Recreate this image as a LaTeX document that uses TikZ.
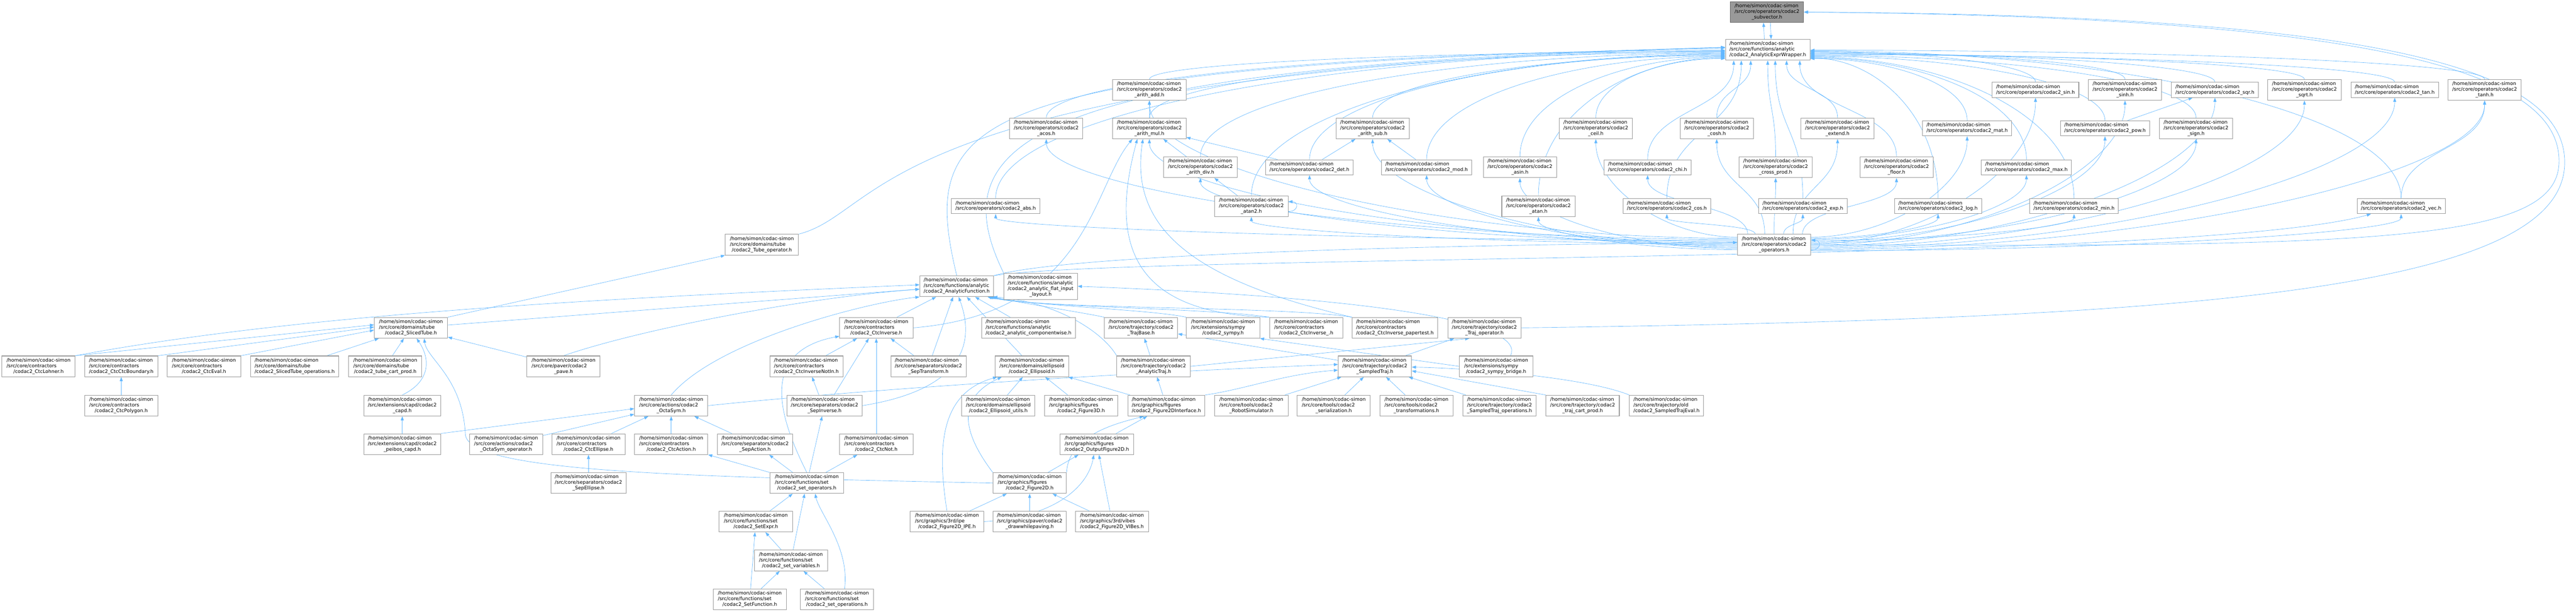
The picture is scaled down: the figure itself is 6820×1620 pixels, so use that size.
\documentclass[tikz,border=0pt]{standalone}
\usepackage{fontspec}
\setmainfont{DejaVu Sans}
\usepackage{tikz}
\usetikzlibrary{backgrounds}
\usetikzlibrary{calc}
\usetikzlibrary{arrows.meta}

\definecolor{edgeblue}{HTML}{63B8FF}
\definecolor{boxline}{HTML}{999999}
\definecolor{rootfill}{HTML}{999999}
\definecolor{rootline}{HTML}{666666}

% file labels: path lines left, last line centred
\newcommand{\doxf}[2]{\begin{tabular}{@{}l@{}}/home/simon/codac-simon\\#1\\\multicolumn{1}{@{}c@{}}{#2}\end{tabular}}
\newcommand{\doxt}[1]{\begin{tabular}{@{}l@{}}/home/simon/codac-simon\\#1\end{tabular}}
% curved includes: v = leaves/enters vertically, h = horizontally
\newcommand{\vhedge}[2]{\draw[inc edge] (#1) .. controls ($(#1)!0.6!(#1 |- #2)$) and ($(#1 |- #2)!0.5!(#2)$) .. (#2);}
\newcommand{\hvedge}[2]{\draw[inc edge] (#1) .. controls ($(#1)!0.5!(#1 -| #2)$) and ($(#1 -| #2)!0.5!(#2)$) .. (#2);}
\newcommand{\vvedge}[2]{\draw[inc edge] (#1) .. controls ($(#1)!0.5!(#1 |- #2)$) and ($(#2)!0.5!(#2 |- #1)$) .. (#2);}

\begin{document}
\begin{tikzpicture}[x=1pt,y=-1pt,
  file node/.style={rectangle,draw=boxline,fill=white,line width=1.4pt,inner xsep=10.5pt,inner ysep=5pt,minimum width=194pt,font=\fontsize{12.8}{15}\selectfont},
  root node/.style={file node,fill=rootfill,draw=rootline},
  inc edge/.style={draw=edgeblue,line width=0.9pt,-{Triangle[length=11pt,width=8pt]}}]

  \useasboundingbox (0,0) rectangle (6820,1620);

  % top
  \node[root node] (sub) at (4678,32) {\doxf{/src/core/operators/codac2}{\_subvector.h}};
  \node[file node] (wrap) at (4680,132) {\doxf{/src/core/functions/analytic}{/codac2\_AnalyticExprWrapper.h}};

  % operators
  \node[file node] (add) at (3043,238) {\doxf{/src/core/operators/codac2}{\_arith\_add.h}};
  \node[file node] (sin) at (5389,238) {\doxt{/src/core/operators/codac2\_sin.h}};
  \node[file node] (sinh) at (5626,238) {\doxf{/src/core/operators/codac2}{\_sinh.h}};
  \node[file node] (sqr) at (5864,238) {\doxt{/src/core/operators/codac2\_sqr.h}};
  \node[file node] (sqrt) at (6101,238) {\doxf{/src/core/operators/codac2}{\_sqrt.h}};
  \node[file node] (tan) at (6340,238) {\doxt{/src/core/operators/codac2\_tan.h}};
  \node[file node] (tanh) at (6578,238) {\doxf{/src/core/operators/codac2}{\_tanh.h}};

  \node[file node] (acos) at (2770,340) {\doxf{/src/core/operators/codac2}{\_acos.h}};
  \node[file node] (mul) at (3043,340) {\doxf{/src/core/operators/codac2}{\_arith\_mul.h}};
  \node[file node] (sub2) at (3634,340) {\doxf{/src/core/operators/codac2}{\_arith\_sub.h}};
  \node[file node] (ceil) at (4225,340) {\doxf{/src/core/operators/codac2}{\_ceil.h}};
  \node[file node] (cosh) at (4545,340) {\doxf{/src/core/operators/codac2}{\_cosh.h}};
  \node[file node] (extend) at (4865,340) {\doxf{/src/core/operators/codac2}{\_extend.h}};
  \node[file node] (mat) at (5208,340) {\doxt{/src/core/operators/codac2\_mat.h}};
  \node[file node] (pow) at (5573,340) {\doxt{/src/core/operators/codac2\_pow.h}};
  \node[file node] (sign) at (5814,340) {\doxf{/src/core/operators/codac2}{\_sign.h}};

  \node[file node] (div) at (3178,443) {\doxf{/src/core/operators/codac2}{\_arith\_div.h}};
  \node[file node] (det) at (3467,443) {\doxt{/src/core/operators/codac2\_det.h}};
  \node[file node] (mod) at (3777,443) {\doxt{/src/core/operators/codac2\_mod.h}};
  \node[file node] (asin) at (4024,443) {\doxf{/src/core/operators/codac2}{\_asin.h}};
  \node[file node] (chi) at (4362,443) {\doxt{/src/core/operators/codac2\_chi.h}};
  \node[file node] (cross) at (4701,443) {\doxf{/src/core/operators/codac2}{\_cross\_prod.h}};
  \node[file node] (floor) at (5021,443) {\doxf{/src/core/operators/codac2}{\_floor.h}};
  \node[file node] (max) at (5365,443) {\doxt{/src/core/operators/codac2\_max.h}};

  \node[file node] (abs) at (2636,546) {\doxt{/src/core/operators/codac2\_abs.h}};
  \node[file node] (atan2) at (3313,546) {\doxf{/src/core/operators/codac2}{\_atan2.h}};
  \node[file node] (atan) at (4073,546) {\doxf{/src/core/operators/codac2}{\_atan.h}};
  \node[file node] (cos) at (4413,546) {\doxt{/src/core/operators/codac2\_cos.h}};
  \node[file node] (exp) at (4773,546) {\doxt{/src/core/operators/codac2\_exp.h}};
  \node[file node] (log) at (5131,546) {\doxt{/src/core/operators/codac2\_log.h}};
  \node[file node] (min) at (5491,546) {\doxt{/src/core/operators/codac2\_min.h}};
  \node[file node] (vec) at (6357,546) {\doxt{/src/core/operators/codac2\_vec.h}};

  \node[file node] (tubeop) at (2017,648) {\doxf{/src/core/domains/tube}{/codac2\_Tube\_operator.h}};
  \node[file node] (ops) at (4697,648) {\doxf{/src/core/operators/codac2}{\_operators.h}};

  % functions, contractors, trajectories
  \node[file node] (af) at (2533,758) {\doxf{/src/core/functions/analytic}{/codac2\_AnalyticFunction.h}};
  \node[file node] (flat) at (2755,758) {\begin{tabular}{@{}l@{}}/home/simon/codac-simon\\/src/core/functions/analytic\\/codac2\_analytic\_flat\_input\\\multicolumn{1}{@{}c@{}}{\_layout.h}\end{tabular}};

  \node[file node] (sliced) at (1088,868) {\doxf{/src/core/domains/tube}{/codac2\_SlicedTube.h}};
  \node[file node] (ctcinv) at (2320,868) {\doxf{/src/core/contractors}{/codac2\_CtcInverse.h}};
  \node[file node] (compw) at (2723,868) {\doxf{/src/core/functions/analytic}{/codac2\_analytic\_componentwise.h}};
  \node[file node] (trajbase) at (3021,868) {\doxf{/src/core/trajectory/codac2}{\_TrajBase.h}};
  \node[file node] (sympy) at (3238,868) {\doxf{/src/extensions/sympy}{/codac2\_sympy.h}};
  \node[file node] (ctcinvu) at (3458,868) {\doxf{/src/core/contractors}{/codac2\_CtcInverse\_.h}};
  \node[file node] (paper) at (3693,868) {\doxf{/src/core/contractors}{/codac2\_CtcInverse\_papertest.h}};
  \node[file node] (trajop) at (3930,868) {\doxf{/src/core/trajectory/codac2}{\_Traj\_operator.h}};

  \node[file node] (lohner) at (102,970) {\doxf{/src/core/contractors}{/codac2\_CtcLohner.h}};
  \node[file node] (ctcbound) at (321,970) {\doxf{/src/core/contractors}{/codac2\_CtcCtcBoundary.h}};
  \node[file node] (ctceval) at (540,970) {\doxf{/src/core/contractors}{/codac2\_CtcEval.h}};
  \node[file node] (slicedops) at (780,970) {\doxf{/src/core/domains/tube}{/codac2\_SlicedTube\_operations.h}};
  \node[file node] (tubecart) at (1020,970) {\doxf{/src/core/domains/tube}{/codac2\_tube\_cart\_prod.h}};
  \node[file node] (pave) at (1492,970) {\doxf{/src/core/paver/codac2}{\_pave.h}};
  \node[file node] (notin) at (2135,970) {\doxf{/src/core/contractors}{/codac2\_CtcInverseNotIn.h}};
  \node[file node] (septrans) at (2458,970) {\doxf{/src/core/separators/codac2}{\_SepTransform.h}};
  \node[file node] (ellips) at (2732,970) {\doxf{/src/core/domains/ellipsoid}{/codac2\_Ellipsoid.h}};
  \node[file node] (atraj) at (3054,970) {\doxf{/src/core/trajectory/codac2}{\_AnalyticTraj.h}};
  \node[file node] (straj) at (3640,970) {\doxf{/src/core/trajectory/codac2}{\_SampledTraj.h}};
  \node[file node] (bridge) at (3961,970) {\doxf{/src/extensions/sympy}{/codac2\_sympy\_bridge.h}};

  \node[file node] (polygon) at (321,1074) {\doxf{/src/core/contractors}{/codac2\_CtcPolygon.h}};
  \node[file node] (capd) at (1065,1074) {\doxf{/src/extensions/capd/codac2}{\_capd.h}};
  \node[file node] (octa) at (1777,1074) {\doxf{/src/core/actions/codac2}{\_OctaSym.h}};
  \node[file node] (sepinv) at (2183,1074) {\doxf{/src/core/separators/codac2}{\_SepInverse.h}};
  \node[file node] (ellutil) at (2643,1074) {\doxf{/src/core/domains/ellipsoid}{/codac2\_Ellipsoid\_utils.h}};
  \node[file node] (fig3d) at (2862,1074) {\doxf{/src/graphics/figures}{/codac2\_Figure3D.h}};
  \node[file node] (fig2di) at (3088,1074) {\doxf{/src/graphics/figures}{/codac2\_Figure2DInterface.h}};
  \node[file node] (robot) at (3313,1074) {\doxf{/src/core/tools/codac2}{\_RobotSimulator.h}};
  \node[file node] (serial) at (3531,1074) {\doxf{/src/core/tools/codac2}{\_serialization.h}};
  \node[file node] (transf) at (3750,1074) {\doxf{/src/core/tools/codac2}{\_transformations.h}};
  \node[file node] (strajops) at (3970,1074) {\doxf{/src/core/trajectory/codac2}{\_SampledTraj\_operations.h}};
  \node[file node] (trajcart) at (4190,1074) {\doxf{/src/core/trajectory/codac2}{\_traj\_cart\_prod.h}};
  \node[file node] (strajeval) at (4412,1074) {\doxf{/src/core/trajectory/old}{/codac2\_SampledTrajEval.h}};

  \node[file node] (peibos) at (1065,1176) {\doxf{/src/extensions/capd/codac2}{\_peibos\_capd.h}};
  \node[file node] (octaop) at (1340,1176) {\doxf{/src/core/actions/codac2}{\_OctaSym\_operator.h}};
  \node[file node] (ctcell) at (1558,1176) {\doxf{/src/core/contractors}{/codac2\_CtcEllipse.h}};
  \node[file node] (ctcact) at (1777,1176) {\doxf{/src/core/contractors}{/codac2\_CtcAction.h}};
  \node[file node] (sepact) at (1999,1176) {\doxf{/src/core/separators/codac2}{\_SepAction.h}};
  \node[file node] (ctcnot) at (2320,1176) {\doxf{/src/core/contractors}{/codac2\_CtcNot.h}};
  \node[file node] (outfig) at (2904,1176) {\doxf{/src/graphics/figures}{/codac2\_OutputFigure2D.h}};

  \node[file node] (sepell) at (1558,1279) {\doxf{/src/core/separators/codac2}{\_SepEllipse.h}};
  \node[file node] (setops) at (2136,1279) {\doxf{/src/core/functions/set}{/codac2\_set\_operators.h}};
  \node[file node] (fig2d) at (2726,1279) {\doxf{/src/graphics/figures}{/codac2\_Figure2D.h}};

  \node[file node] (setexpr) at (2001,1381) {\doxf{/src/core/functions/set}{/codac2\_SetExpr.h}};
  \node[file node] (ipe) at (2507,1381) {\doxf{/src/graphics/3rd/ipe}{/codac2\_Figure2D\_IPE.h}};
  \node[file node] (dwp) at (2726,1381) {\doxf{/src/graphics/paver/codac2}{\_drawwhilepaving.h}};
  \node[file node] (vibes) at (2944,1381) {\doxf{/src/graphics/3rd/vibes}{/codac2\_Figure2D\_VIBes.h}};

  \node[file node] (setvars) at (2094,1484) {\doxf{/src/core/functions/set}{/codac2\_set\_variables.h}};

  \node[file node] (setfunc) at (1985,1587) {\doxf{/src/core/functions/set}{/codac2\_SetFunction.h}};
  \node[file node] (setoper) at (2216,1587) {\doxf{/src/core/functions/set}{/codac2\_set\_operations.h}};

  \begin{pgfonlayer}{background}
  \fill[white] (0,0) rectangle (6820,1620);

  % subvector <-> wrapper
  \draw[inc edge] ([xshift=-9pt]wrap.north) -- ([xshift=-9pt]sub.south);
  \draw[inc edge] ([xshift=9pt]sub.south) -- ([xshift=9pt]wrap.north);
  \draw[inc edge] (ops.east) .. controls (6300,655) and (6770,640) .. (6775,430) .. controls (6780,190) and (6300,45) .. (sub.east);
  \draw[inc edge] (trajop.east) .. controls (5800,845) and (6790,770) .. (6790,430) .. controls (6790,180) and (6300,40) .. (sub.east);

  % operators -> wrapper
  \foreach \n/\o in {acos/-1,abs/-3,add/-5,mul/-7,div/-9,atan2/-11,det/-13,sub2/-15,mod/-17,asin/-19,atan/-21,ceil/-23}{
    \coordinate (e) at ([yshift=\o pt]wrap.west);
    \vhedge{\n.north}{e}
  }
  \foreach \n/\o in {tanh/-1,vec/-3,sin/-5,sinh/-7,sqr/-9,sqrt/-11,tan/-13,sign/-15,pow/-17,min/-19,max/-21,log/-22,mat/-23}{
    \coordinate (e) at ([yshift=\o pt]wrap.east);
    \vhedge{\n.north}{e}
  }
  \foreach \n/\o in {chi/-90,cos/-70,cosh/-45,cross/0,exp/20,extend/50,floor/85}{
    \coordinate (e) at ([xshift=\o pt]wrap.south);
    \vvedge{\n.north}{e}
  }

  % operators hub -> operators
  \foreach \n/\o in {ceil/20,add/17,acos/14,abs/11,mul/8,div/5,atan2/2,det/-1,sub2/-4,mod/-7,asin/-10,atan/-13}{
    \coordinate (s) at ([yshift=\o pt]ops.west);
    \hvedge{s}{\n.south}
  }
  \foreach \n/\o in {chi/-70,cos/-50,cosh/-25,cross/0,exp/25,extend/50,floor/75}{
    \coordinate (s) at ([xshift=\o pt]ops.north);
    \vvedge{s}{\n.south}
  }
  \foreach \n/\o in {mat/20,log/17,max/14,min/11,pow/8,sign/5,sin/2,sinh/-1,sqr/-4,sqrt/-7,tan/-10,tanh/-13,vec/-16}{
    \coordinate (s) at ([yshift=\o pt]ops.east);
    \hvedge{s}{\n.south}
  }

  % operators among themselves
  \draw[inc edge] (mul) -- (add);
  \draw[inc edge] (div) -- (mul);
  \draw[inc edge] (det) -- (mul);
  \draw[inc edge] (det) -- (sub2);
  \draw[inc edge] (mod) -- (sub2);
  \draw[inc edge] (atan2) -- (div);
  \draw[inc edge] (pow) -- (sqr);
  \vvedge{vec.north}{tanh.south}
  \draw[inc edge] ([yshift=-14pt]atan2.east) .. controls +(28,0) and +(28,0) .. ([yshift=12pt]atan2.east);
  \draw[inc edge] ([yshift=-14pt]ops.east) .. controls +(28,0) and +(28,0) .. ([yshift=12pt]ops.east);

  % functions
  \draw[inc edge] (tubeop.north east) .. controls (2350,560) and (2300,190) .. ([yshift=7pt]wrap.west);
  \draw[inc edge] (af.north) .. controls (2430,300) and (2550,175) .. ([yshift=6pt]wrap.west);
  \draw[inc edge] (flat.north west) .. controls (2490,380) and (2700,170) .. ([yshift=5pt]wrap.west);
  \draw[inc edge] (af.north east) .. controls (2800,680) and (3600,650) .. ([yshift=6pt]ops.west);
  \draw[inc edge] (af.north east) .. controls (3000,672) and (5800,700) .. ([xshift=-80pt]vec.south);
  \draw[inc edge] (ctcinv.east) .. controls (2880,830) and (2890,500) .. ([xshift=-45pt]mul.south);
  \draw[inc edge] (ctcinvu.north west) .. controls (3000,830) and (2935,650) .. ([xshift=-32pt]mul.south);
  \draw[inc edge] (paper.north west) .. controls (3150,740) and (2990,600) .. ([xshift=-17pt]mul.south);

  % tubes
  \draw[inc edge] (sliced.north east) -- (tubeop.south west);
  \draw[inc edge] (sliced) -- (af);
  \draw[inc edge] (lohner.north east) -- ([yshift=8pt]sliced.west);
  \draw[inc edge] (lohner.north east) .. controls (800,830) and (1600,790) .. ([yshift=4pt]af.west);
  \draw[inc edge] (ctcbound.north east) -- ([yshift=2pt]sliced.west);
  \draw[inc edge] (ctceval.north east) -- ([yshift=-6pt]sliced.west);
  \draw[inc edge] (slicedops) -- (sliced);
  \draw[inc edge] (tubecart) -- (sliced);
  \draw[inc edge] (capd.north) .. controls (1140,1010) and (1140,950) .. ([xshift=15pt]sliced.south);
  \draw[inc edge] (pave) -- (sliced);
  \draw[inc edge] (pave.north) .. controls (1700,870) and (2150,785) .. ([yshift=-8pt]af.west);
  \draw[inc edge] (polygon) -- (ctcbound);
  \draw[inc edge] (peibos) -- (capd);
  \draw[inc edge] (fig2d.west) .. controls (1800,1262) and (1240,1250) .. (1232,1150) .. controls (1225,1000) and (1130,950) .. ([xshift=35pt]sliced.south);

  % contractors, separators, actions
  \draw[inc edge] (ctcinv) -- (af);
  \draw[inc edge] (compw) -- (af);
  \draw[inc edge] (notin) -- (ctcinv);
  \draw[inc edge] (septrans) -- (ctcinv);
  \draw[inc edge] (septrans) -- (af);
  \draw[inc edge] ([xshift=25pt]sepinv.north) -- ([xshift=-20pt]ctcinv.south);
  \draw[inc edge] ([xshift=-15pt]sepinv.north) -- ([xshift=15pt]notin.south);
  \draw[inc edge] (sepinv.east) .. controls (2560,1030) and (2580,900) .. ([xshift=5pt]af.south);
  \draw[inc edge] (ctcnot) -- (ctcinv);
  \draw[inc edge] (setops.north) .. controls (2060,1100) and (2010,930) .. ([yshift=6pt]ctcinv.south west);
  \draw[inc edge] (setops) -- (sepinv);
  \draw[inc edge] (setops) -- (ctcact);
  \draw[inc edge] (setops) -- (sepact);
  \draw[inc edge] (setops) -- (ctcnot);
  \draw[inc edge] (octa.north) .. controls (1900,900) and (2300,800) .. (af.south west);
  \draw[inc edge] (peibos.north east) -- ([yshift=-8pt]octa.west);
  \draw[inc edge] (octaop) -- (octa);
  \draw[inc edge] (ctcell) -- (octa);
  \draw[inc edge] (ctcact) -- (octa);
  \draw[inc edge] (sepact) -- (octa);
  \draw[inc edge] (sepell) -- (ctcell);
  \draw[inc edge] (octa.east) .. controls (2300,1030) and (3000,985) .. ([yshift=5pt]straj.west);

  % sets
  \draw[inc edge] (setexpr) -- (setops);
  \draw[inc edge] (setvars) -- (setops);
  \draw[inc edge] (setvars) -- (setexpr);
  \draw[inc edge] (setfunc) -- (setexpr);
  \draw[inc edge] (setfunc) -- (setvars);
  \draw[inc edge] (setoper) -- (setvars);
  \draw[inc edge] ([xshift=20pt]setoper.north) .. controls (2250,1450) and (2170,1360) .. ([xshift=22pt]setops.south);

  % ellipsoid and figures
  \draw[inc edge] (ellips) -- (af);
  \draw[inc edge] (ellutil) -- (ellips);
  \draw[inc edge] (fig3d) -- (ellips);
  \draw[inc edge] (fig2di) -- (ellips);
  \draw[inc edge] (fig2d.north west) .. controls (2560,1160) and (2520,1060) .. ([xshift=-80pt]ellips.south);
  \draw[inc edge] (ipe.north) .. controls (2480,1180) and (2490,1040) .. ([xshift=-92pt]ellips.south);
  \draw[inc edge] (ipe) -- (fig2d);
  \draw[inc edge] (ipe.east) .. controls (2790,1370) and (2880,1290) .. ([xshift=-8pt]outfig.south);
  \draw[inc edge] (dwp) -- (fig2d);
  \draw[inc edge] (vibes) -- (fig2d);
  \draw[inc edge] (vibes) -- (outfig);
  \draw[inc edge] (fig2d.north east) .. controls (2830,1150) and (2960,1120) .. ([xshift=-60pt]fig2di.south);
  \draw[inc edge] (fig2d) -- (outfig);
  \draw[inc edge] (outfig) -- (fig2di);

  % trajectories
  \draw[inc edge] (atraj) -- (trajbase);
  \draw[inc edge] (atraj.east) -- ([xshift=-40pt]trajop.south);
  \draw[inc edge] (atraj.north west) .. controls (2920,880) and (2800,800) .. ([xshift=-2pt]af.south east);
  \draw[inc edge] (straj) -- (trajbase);
  \draw[inc edge] (straj) -- (trajop);
  \draw[inc edge] (fig2di) -- (atraj);
  \draw[inc edge] (fig2di.north east) .. controls (3300,1030) and (3400,990) .. ([yshift=-10pt]straj.west);
  \draw[inc edge] (robot) -- (straj);
  \draw[inc edge] (serial) -- (straj);
  \draw[inc edge] (transf) -- (straj);
  \draw[inc edge] (strajops) -- (straj);
  \draw[inc edge] (trajcart.north west) -- ([yshift=-12pt]straj.east);
  \draw[inc edge] (strajeval.north west) .. controls (4200,1000) and (3900,975) .. ([yshift=-2pt]straj.east);
  \draw[inc edge] (bridge.west) -- (sympy.south east);
  \draw[inc edge] ([xshift=38pt]bridge.north) .. controls (4040,860) and (3700,790) .. (flat.east);
  \draw[inc edge] (trajbase.north west) .. controls (2880,830) and (2720,805) .. ([xshift=-5pt]af.south east);
  \draw[inc edge] (sympy.north west) .. controls (3050,820) and (2740,810) .. ([xshift=-9pt]af.south east);
  \draw[inc edge] (ctcinvu.north west) .. controls (3200,815) and (2750,815) .. ([xshift=-13pt]af.south east);
  \draw[inc edge] (paper.north west) .. controls (3400,810) and (2760,820) .. ([xshift=-17pt]af.south east);
  \end{pgfonlayer}

\end{tikzpicture}
\end{document}
